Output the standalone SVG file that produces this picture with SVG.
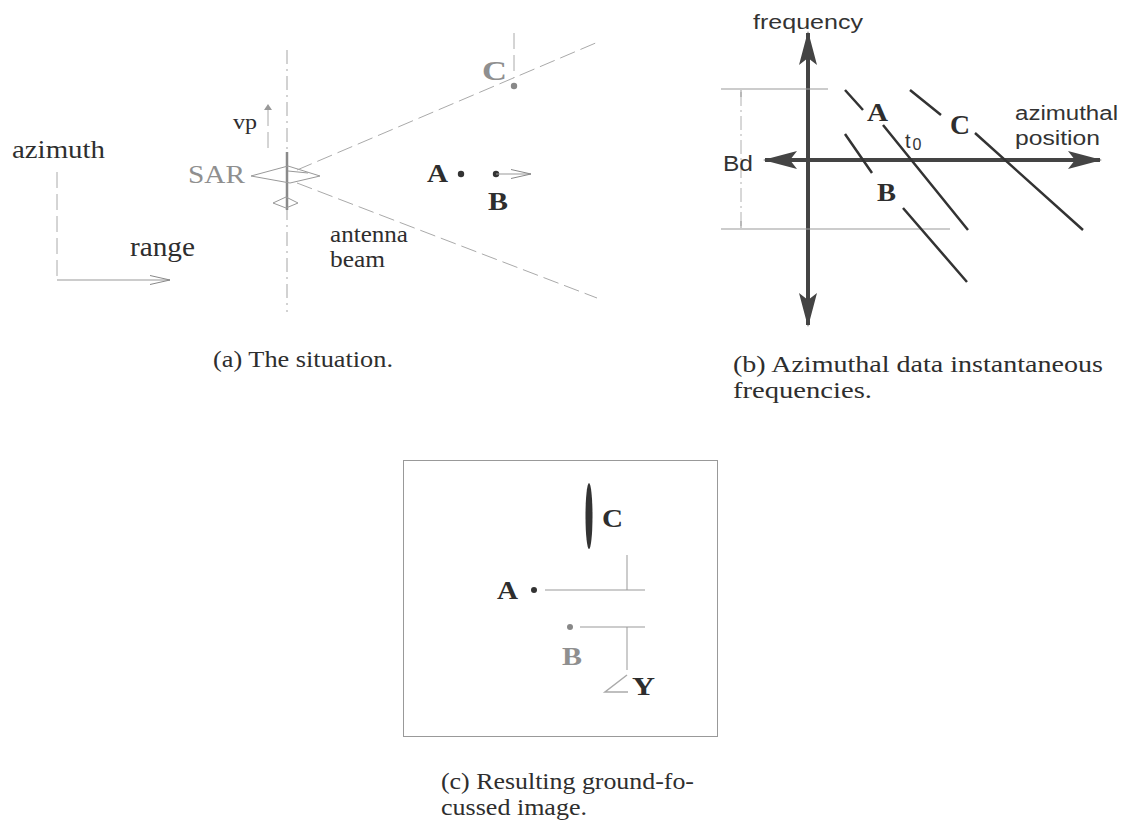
<svg xmlns="http://www.w3.org/2000/svg" width="1126" height="824" viewBox="0 0 1126 824">
<defs>
<style>
.serif{font-family:"Liberation Serif","Times New Roman",serif;fill:#2e2e2e}
.sans{font-family:"Liberation Sans",Arial,sans-serif;fill:#333}
.bold{font-weight:bold}
.grey{fill:#8f8f8f}
.thin{stroke:#999;stroke-width:1;fill:none}
.light{stroke:#b0b0b0;stroke-width:1;fill:none}
.dash{stroke:#aaa;stroke-width:1;fill:none;stroke-dasharray:16 6}
.dashdot{stroke:#bbb;stroke-width:1.3;fill:none;stroke-dasharray:14 5 2 5}
.thick{stroke:#333;stroke-width:2.5;fill:none}
.axis{stroke:#444;stroke-width:4;fill:none}
.dot{fill:#333}
.gdot{fill:#888}
.cap{font-size:23px}
</style>
<marker id="head" viewBox="0 0 34 18" markerUnits="userSpaceOnUse" markerWidth="34" markerHeight="18" refX="32" refY="9" orient="auto-start-reverse">
<path d="M0,0 L34,9 L0,18 L7,9 Z" fill="#444"/>
</marker>
<marker id="open" viewBox="0 0 20 10" markerUnits="userSpaceOnUse" markerWidth="20" markerHeight="10" refX="20" refY="5" orient="auto">
<path d="M0,0.5 L20,5 L0,9.5" fill="none" stroke="#888" stroke-width="1"/>
</marker>
<marker id="smallup" viewBox="0 0 6 8" markerUnits="userSpaceOnUse" markerWidth="6" markerHeight="8" refX="6" refY="4" orient="auto">
<path d="M0,0 L6,4 L0,8 Z" fill="#999"/>
</marker>
</defs>

<!-- Panel (a): the situation -->
<g id="panel-a">
  <g id="axes-a">
    <text class="serif" x="12" y="158" font-size="26" textLength="93" lengthAdjust="spacingAndGlyphs">azimuth</text>
    <path class="dash" d="M57,172 L57,280" stroke-dasharray="8 5"/>
    <path class="thin" d="M57,280 L170,280" marker-end="url(#open)"/>
    <text class="serif" x="130" y="256" font-size="27" textLength="65" lengthAdjust="spacingAndGlyphs">range</text>
  </g>
  <g id="sar">
    <path class="dashdot" d="M287,50 L287,312"/>
    <path d="M287,152 L287,210" stroke="#8a8a8a" stroke-width="2.5"/>
    <path class="dash" d="M268,148 L268,104" stroke-dasharray="6 4" marker-end="url(#smallup)"/>
    <text class="serif" x="233" y="129" font-size="22" textLength="24" lengthAdjust="spacingAndGlyphs">vp</text>
    <text class="serif grey" x="188" y="183" font-size="26" textLength="57" lengthAdjust="spacingAndGlyphs">SAR</text>
    <path class="thin" d="M251,176 L288,166 L320,176 L290,183 Z M288,171 L308,173"/>
    <path class="thin" d="M273,203 L286,197 L298,203 L286,208 Z"/>
  </g>
  <g id="beam">
    <path class="dash" d="M297,170 L598,42"/>
    <path class="dash" d="M297,183 L597,298"/>
    <text class="serif" x="330" y="242" font-size="24" textLength="78" lengthAdjust="spacingAndGlyphs">antenna</text>
    <text class="serif" x="330" y="267" font-size="24" textLength="55" lengthAdjust="spacingAndGlyphs">beam</text>
  </g>
  <g id="target-c-a">
    <path class="dash" d="M514,33 L514,78" stroke-dasharray="8 4"/>
    <circle class="gdot" cx="514" cy="86" r="3.2"/>
    <text class="serif bold grey" x="482" y="80" font-size="27" textLength="25" lengthAdjust="spacingAndGlyphs">C</text>
  </g>
  <g id="target-a-a">
    <text class="serif bold" x="427" y="182" font-size="26" textLength="21" lengthAdjust="spacingAndGlyphs">A</text>
    <circle class="dot" cx="461" cy="174" r="3.2"/>
  </g>
  <g id="target-b-a">
    <circle class="dot" cx="496" cy="174" r="3.2"/>
    <path class="thin" d="M496,174 L531,174" stroke="#666" marker-end="url(#open)"/>
    <text class="serif bold" x="488" y="210" font-size="26" textLength="20" lengthAdjust="spacingAndGlyphs">B</text>
  </g>
  <text id="caption-a" class="serif cap" x="213" y="367" textLength="180" lengthAdjust="spacingAndGlyphs">(a) The situation.</text>
</g>

<!-- Panel (b): instantaneous frequencies -->
<g id="panel-b">
  <g id="axes-b">
    <path class="axis" d="M808,325 L808,33" marker-start="url(#head)" marker-end="url(#head)"/>
    <path class="axis" d="M765,160 L1100,160" marker-start="url(#head)" marker-end="url(#head)"/>
    <text class="sans" x="753" y="29" font-size="20" textLength="110" lengthAdjust="spacingAndGlyphs">frequency</text>
    <text class="sans" x="1015" y="120" font-size="20" textLength="103" lengthAdjust="spacingAndGlyphs">azimuthal</text>
    <text class="sans" x="1015" y="145" font-size="20" textLength="85" lengthAdjust="spacingAndGlyphs">position</text>
  </g>
  <g id="bandwidth">
    <path class="thin" d="M721,89 L828,89 M721,229 L950,229"/>
    <path class="light" d="M741,92 L741,228" stroke-dasharray="14 4 2 4"/>
    <path class="thin" d="M741,90 L741,97 M741,221 L741,228"/>
    <text class="sans" x="723" y="171" font-size="22" textLength="30" lengthAdjust="spacingAndGlyphs">Bd</text>
  </g>
  <g id="trace-a">
    <path class="thick" d="M845,90 L863,110 M883,125 L968,230"/>
    <text class="serif bold" x="867" y="121" font-size="26" textLength="21" lengthAdjust="spacingAndGlyphs">A</text>
  </g>
  <g id="trace-b">
    <path class="thick" d="M845,134 L872,173 M903,208 L967,282"/>
    <text class="serif bold" x="877" y="201" font-size="26" textLength="19" lengthAdjust="spacingAndGlyphs">B</text>
  </g>
  <g id="trace-c">
    <path class="thick" d="M910,90 L941,115 M975,133 L1083,230"/>
    <text class="serif bold" x="950" y="134" font-size="28" textLength="20" lengthAdjust="spacingAndGlyphs">C</text>
  </g>
  <text class="sans" x="905" y="148" font-size="20">t<tspan font-size="16" dx="2" dy="2">0</tspan></text>
  <g id="caption-b">
    <text class="serif cap" x="733" y="372" textLength="370" lengthAdjust="spacingAndGlyphs">(b) Azimuthal data instantaneous</text>
    <text class="serif cap" x="733" y="398" textLength="139" lengthAdjust="spacingAndGlyphs">frequencies.</text>
  </g>
</g>

<!-- Panel (c): resulting image -->
<g id="panel-c">
  <rect x="403.5" y="460.5" width="314" height="276" class="thin"/>
  <g id="target-c-c">
    <ellipse cx="589" cy="516" rx="3.5" ry="33" fill="#333"/>
    <text class="serif bold" x="602" y="527" font-size="26" textLength="21" lengthAdjust="spacingAndGlyphs">C</text>
  </g>
  <g id="target-a-c">
    <text class="serif bold" x="497" y="599" font-size="26" textLength="21" lengthAdjust="spacingAndGlyphs">A</text>
    <circle class="dot" cx="534" cy="590" r="3"/>
    <path class="thin" d="M545,590 L645,590 M627,555 L627,590" stroke="#777"/>
  </g>
  <g id="target-b-c">
    <circle class="gdot" cx="570" cy="627" r="3"/>
    <path class="thin" d="M580,627 L645,627 M627,627 L627,670" stroke="#777"/>
    <text class="serif bold grey" x="562" y="665" font-size="26" textLength="20" lengthAdjust="spacingAndGlyphs">B</text>
  </g>
  <g id="target-y-c">
    <path d="M627,675 L605,692 L628,692" fill="none" stroke="#aaa" stroke-width="1.5"/>
    <text class="serif bold" x="632" y="695" font-size="26" textLength="23" lengthAdjust="spacingAndGlyphs">Y</text>
  </g>
  <g id="caption-c">
    <text class="serif cap" x="441" y="789" textLength="253" lengthAdjust="spacingAndGlyphs">(c) Resulting ground-fo-</text>
    <text class="serif cap" x="441" y="815" textLength="146" lengthAdjust="spacingAndGlyphs">cussed image.</text>
  </g>
</g>
</svg>
